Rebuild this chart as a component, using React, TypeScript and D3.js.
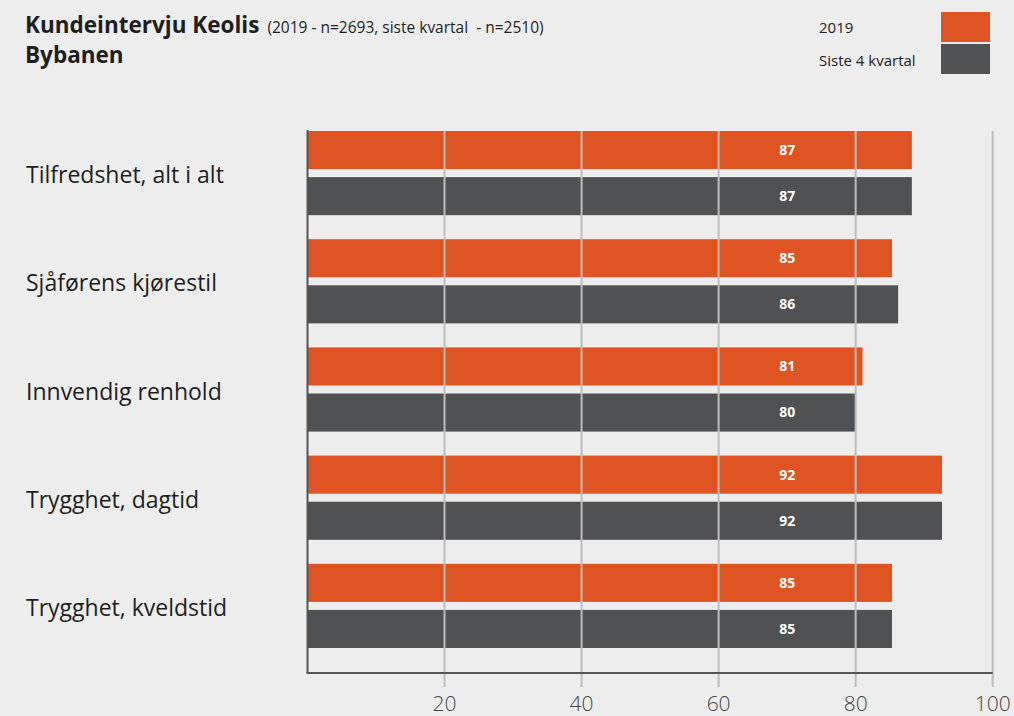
import { scaleBand, scaleLinear } from "d3";

const WIDTH = 1014;
const HEIGHT = 716;
const MARGIN = { top: 131, right: 22, bottom: 68, left: 307.5 };

const categories = [
  "Tilfredshet, alt i alt",
  "Sjåførens kjørestil",
  "Innvendig renhold",
  "Trygghet, dagtid",
  "Trygghet, kveldstid",
];
const seriesNames = ["2019", "Siste 4 kvartal"];
const values2019 = [88.2, 85.3, 81.0, 92.6, 85.3];
const valuesLast4 = [88.2, 86.2, 80.0, 92.6, 85.3];
const labels2019 = ["87", "85", "81", "92", "85"];
const labelsLast4 = ["87", "86", "80", "92", "85"];
const ticks = [20, 40, 60, 80, 100];

const COLORS = ["#de5422", "#505153"];
const FONT = "'Open Sans', sans-serif";

export default function App() {
  const axisY = HEIGHT - 43;
  const x = scaleLinear()
    .domain([0, 100])
    .range([MARGIN.left, WIDTH - MARGIN.right + 0.7]);
  const y = scaleBand<string>()
    .domain(categories)
    .range([MARGIN.top, 648])
    .paddingInner(0.222)
    .paddingOuter(0);
  const ySub = scaleBand<string>()
    .domain(seriesNames)
    .range([0, y.bandwidth()])
    .paddingInner(0.174);

  const series = [
    { name: seriesNames[0], values: values2019, labels: labels2019 },
    { name: seriesNames[1], values: valuesLast4, labels: labelsLast4 },
  ];

  return (
    <svg
      width={WIDTH}
      height={HEIGHT}
      viewBox={`0 0 ${WIDTH} ${HEIGHT}`}
      style={{ position: "absolute", left: 0, top: 0, background: "#ededed" }}
      fontFamily={FONT}
    >
      <rect x={0} y={0} width={WIDTH} height={HEIGHT} fill="#ededed" />

      <text x={25} y={33} fontSize={22.5} fontWeight="bold" fill="#1e1e1e">
        Kundeintervju Keolis
        <tspan fontSize={15.5} fontWeight="normal" dx={8} style={{ whiteSpace: "pre" }}>
          (2019 - n=2693, siste kvartal  - n=2510)
        </tspan>
      </text>
      <text x={25} y={63} fontSize={22.5} fontWeight="bold" fill="#1e1e1e">
        Bybanen
      </text>

      {seriesNames.map((name, i) => (
        <g key={name}>
          <text x={819} y={33 + i * 33} fontSize={15} fill="#222">
            {name}
          </text>
          <rect x={941} y={12 + i * 32} width={49} height={30} fill={COLORS[i]} />
        </g>
      ))}

      {series.map((s, si) =>
        categories.map((c, ci) => (
          <rect
            key={`${s.name}-${c}`}
            x={x(0)}
            y={(y(c) ?? 0) + (ySub(s.name) ?? 0)}
            width={x(s.values[ci]) - x(0)}
            height={ySub.bandwidth()}
            fill={COLORS[si]}
          />
        ))
      )}

      {ticks.map((t) => (
        <line
          key={t}
          x1={x(t)}
          x2={x(t)}
          y1={MARGIN.top}
          y2={axisY + 14}
          stroke="#bdbdbd"
          strokeWidth={2}
        />
      ))}

      {series.map((s, si) =>
        categories.map((c, ci) => (
          <text
            key={`lbl-${s.name}-${c}`}
            x={x(70)}
            y={(y(c) ?? 0) + (ySub(s.name) ?? 0) + ySub.bandwidth() / 2}
            dy="0.35em"
            textAnchor="middle"
            fontSize={14}
            fontWeight="bold"
            fill="#ffffff"
          >
            {s.labels[ci]}
          </text>
        ))
      )}

      <line x1={x(0)} x2={x(0)} y1={MARGIN.top - 1} y2={axisY} stroke="#555" strokeWidth={2} />
      <line x1={x(0) - 1} x2={x(100)} y1={axisY} y2={axisY} stroke="#555" strokeWidth={2} />

      {ticks.map((t) => (
        <text
          key={`t-${t}`}
          x={x(t)}
          y={711}
          textAnchor="middle"
          fontSize={21}
          fill="#444"
          fontWeight={300}
        >
          {t}
        </text>
      ))}

      {categories.map((c) => (
        <text
          key={`cat-${c}`}
          x={26}
          y={(y(c) ?? 0) + y.bandwidth() / 2 + 2}
          dy="0.35em"
          fontSize={23}
          fill="#1e1e1e"
        >
          {c}
        </text>
      ))}
    </svg>
  );
}
